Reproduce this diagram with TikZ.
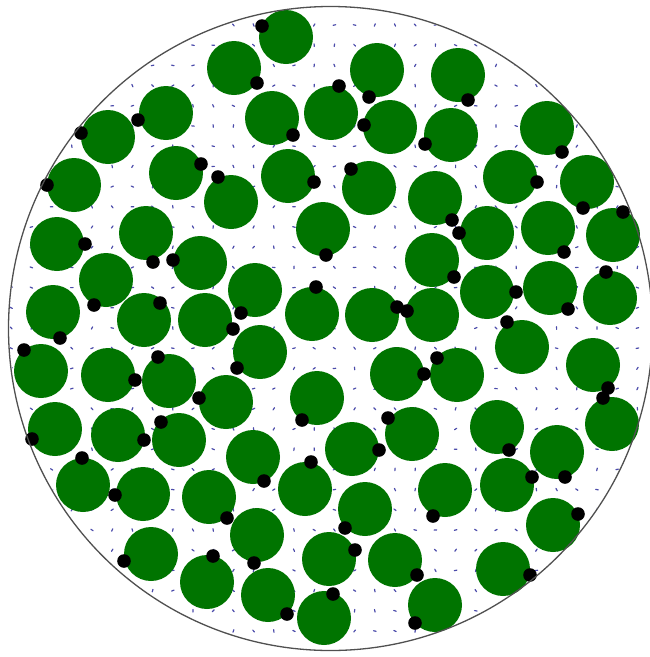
\documentclass[tikz,border=0pt]{standalone}
\usepackage{tikz}
\definecolor{fibre}{RGB}{0,116,0}
\definecolor{gridmark}{RGB}{75,75,170}
\definecolor{rimline}{RGB}{80,80,80}
\tikzset{
  fibredisk/.style={fill=fibre},
  tipdot/.style={fill=black},
  gridtick/.style={draw=gridmark,line width=1.2pt,line cap=round},
  container/.style={draw=rimline,line width=1.3pt},
}

\begin{document}
\begin{tikzpicture}[x=1pt,y=-1pt]
\useasboundingbox (0,0) rectangle (650,657);

% field marks inside the cross-section
\begin{scope}
  \clip (330.5,328.5) circle (321);
  \pgfmathsetseed{17}
  \foreach \i in {0,...,32}
    \foreach \j in {0,...,32}{
      \pgfmathsetmacro{\gx}{11.2+20.2*\i}
      \pgfmathsetmacro{\gy}{4.8+20.2*\j}
      \pgfmathsetmacro{\ang}{rnd*180}
      \draw[gridtick] (\gx,\gy) ++(\ang:1.3) -- ++(\ang+180:2.6);
    }
\end{scope}

% fibres: centre x/y, tip x/y
\def\fibrelist{286/37/262/26, 234/68/257/83, 166/113/138/120, 108/137/81/133,
  272/118/293/135, 331/113/339/86, 74/185/47/185, 176/173/201/164,
  231/202/218/177, 288/176/314/182, 57/244/85/244, 146/233/153/262,
  200/263/173/260, 106/280/94/305, 323/229/326/255, 53/312/60/338,
  144/320/160/303, 205/320/233/329, 255/290/241/313, 312/314/316/287,
  377/70/369/97, 458/75/468/100, 390/127/364/125, 451/135/425/144,
  547/128/562/152, 369/188/351/169, 510/177/537/182, 587/182/583/208,
  435/198/452/220, 487/233/459/233, 548/228/564/252, 613/235/623/212,
  432/260/454/277, 487/292/516/292, 550/288/568/309, 610/298/606/272,
  372/315/397/307, 432/315/407/311, 522/347/507/322,
  397/374/424/374, 457/375/437/358, 593/365/608/388, 612/424/603/398,
  317/398/302/420, 352/449/379/450, 412/434/388/418, 497/427/509/450,
  557/452/565/477, 507/485/532/477, 445/490/433/516, 305/489/311/462,
  365/509/345/528, 553/525/578/514, 329/559/355/550, 395/560/417/575,
  503/569/530/575, 324/618/333/594, 435/605/415/623,
  41/371/24/350, 108/375/135/380, 169/381/158/357, 260/352/237/368,
  226/402/199/398, 55/429/32/439, 118/435/144/440, 179/440/161/422,
  253/457/264/481, 83/485/82/458, 143/494/115/495, 209/497/227/518,
  257/535/254/563, 151/554/124/561, 207/582/213/556, 268/595/287/614}

\foreach \cx/\cy/\tx/\ty in \fibrelist
  \fill[fibredisk] (\cx,\cy) circle (27);
\foreach \cx/\cy/\tx/\ty in \fibrelist
  \fill[tipdot] (\tx,\ty) circle (6.8);

\draw[container] (330.5,328.5) circle (322);
\end{tikzpicture}
\end{document}
